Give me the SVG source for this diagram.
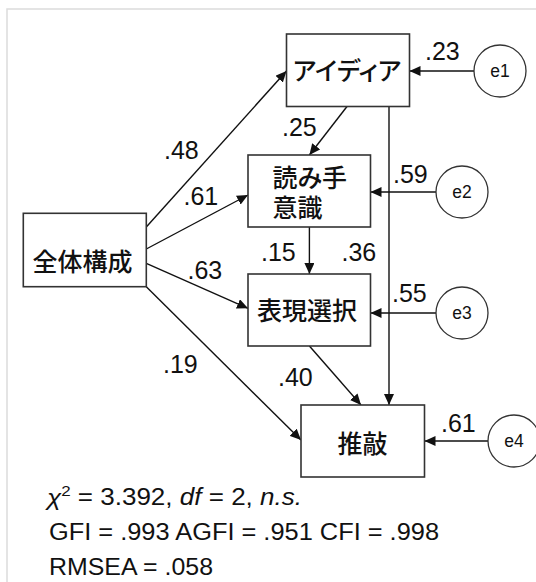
<svg xmlns="http://www.w3.org/2000/svg" width="536" height="582" viewBox="0 0 536 582">
<style>
.box{fill:#fff;stroke:#333;stroke-width:1.6}
.err{fill:#fff;stroke:#333;stroke-width:1.3}
.jp{font-family:"Noto Sans CJK JP","Noto Sans CJK SC",sans-serif;font-size:25px;font-weight:500;fill:#111;font-feature-settings:"palt"}
.lbl{font-family:"Liberation Sans",Arial,sans-serif;font-size:25px;fill:#111}
.et{font-family:"Liberation Sans",Arial,sans-serif;font-size:17.5px;fill:#111;text-anchor:middle}
.st{font-family:"Liberation Sans",Arial,sans-serif;font-size:23px;fill:#111}
.c line{stroke:#111;stroke-width:1.4;marker-end:url(#ah)}
</style>
<defs>
<marker id="ah" markerUnits="userSpaceOnUse" markerWidth="12" markerHeight="10" refX="11" refY="5" orient="auto">
<path d="M0,0 L11,5 L0,10 z" fill="#111"/>
</marker>
</defs>
<rect width="536" height="582" fill="#fff"/>
<rect x="7" y="9" width="600" height="620" fill="none" stroke="#dcdcdc" stroke-width="1.5"/>

<g id="connectors" class="c">
<line x1="146.3" y1="227" x2="286.5" y2="71"/>
<line x1="146.3" y1="249" x2="248" y2="195"/>
<line x1="146.3" y1="263.3" x2="248" y2="308.3"/>
<line x1="146.3" y1="286.7" x2="301" y2="440"/>
<line x1="347" y1="106.5" x2="309.4" y2="155"/>
<line x1="309.4" y1="227" x2="309.4" y2="274"/>
<line x1="309.4" y1="346" x2="361" y2="405"/>
<line x1="389" y1="106.5" x2="389" y2="405"/>
<line x1="474" y1="71" x2="409.5" y2="71"/>
<line x1="436" y1="192" x2="370.5" y2="192"/>
<line x1="436" y1="313" x2="370.5" y2="313"/>
<line x1="488" y1="441" x2="424.5" y2="441"/>
</g>

<g id="idea">
<rect class="box" x="286.5" y="34" width="123" height="72.5"/>
<text class="jp" x="347" y="80" text-anchor="middle">アイディア</text>
</g>
<g id="reader">
<rect class="box" x="248" y="155" width="122.5" height="72"/>
<text class="jp"><tspan x="272.5" y="186.5">読み手</tspan><tspan x="272.5" y="216.5">意識</tspan></text>
</g>
<g id="overall">
<rect class="box" x="23.3" y="213.3" width="123" height="73.4"/>
<text class="jp" x="82.5" y="271" text-anchor="middle">全体構成</text>
</g>
<g id="expression">
<rect class="box" x="248" y="274" width="122.5" height="72"/>
<text class="jp" x="307" y="320" text-anchor="middle">表現選択</text>
</g>
<g id="revision">
<rect class="box" x="301" y="405" width="123.5" height="72"/>
<text class="jp" x="362.5" y="453" text-anchor="middle">推敲</text>
</g>

<g id="e1"><circle class="err" cx="500" cy="71" r="26"/><text class="et" x="500" y="77.3">e1</text></g>
<g id="e2"><circle class="err" cx="462" cy="192" r="26"/><text class="et" x="462" y="198.3">e2</text></g>
<g id="e3"><circle class="err" cx="462" cy="313" r="26"/><text class="et" x="462" y="319.3">e3</text></g>
<g id="e4"><circle class="err" cx="514" cy="441" r="26"/><text class="et" x="514" y="447.3">e4</text></g>

<g id="labels" class="lbl">
<text x="425" y="60">.23</text>
<text x="282" y="136">.25</text>
<text x="164" y="159">.48</text>
<text x="393" y="183">.59</text>
<text x="183.5" y="205">.61</text>
<text x="261" y="261">.15</text>
<text x="341.5" y="261">.36</text>
<text x="187.5" y="279">.63</text>
<text x="392" y="302">.55</text>
<text x="163" y="373">.19</text>
<text x="278" y="386">.40</text>
<text x="441" y="432">.61</text>
</g>

<g id="stats" class="st">
<text x="47" y="505" textLength="255" lengthAdjust="spacingAndGlyphs"><tspan font-style="italic">χ</tspan><tspan font-size="15" dy="-9">2</tspan><tspan dy="9"> = 3.392, </tspan><tspan font-style="italic">df</tspan> = 2, <tspan font-style="italic">n.s.</tspan></text>
<text x="49" y="540" textLength="390" lengthAdjust="spacingAndGlyphs">GFI = .993 AGFI = .951 CFI = .998</text>
<text x="49" y="575" textLength="164" lengthAdjust="spacingAndGlyphs">RMSEA = .058</text>
</g>
</svg>
